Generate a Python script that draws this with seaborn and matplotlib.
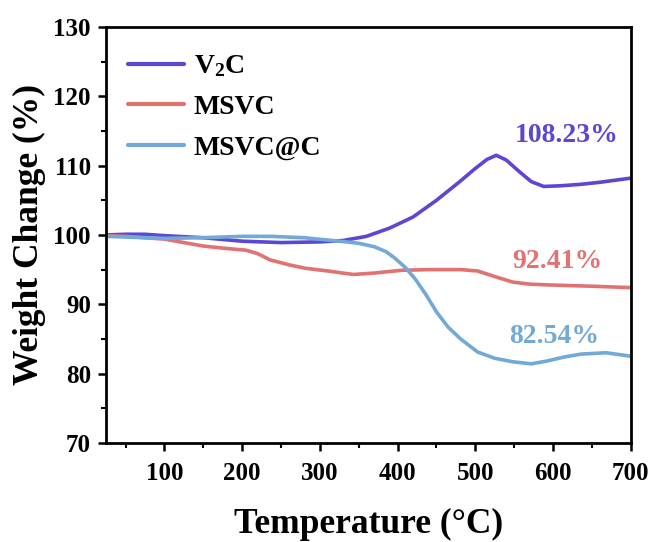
import numpy as np
import pandas as pd
import matplotlib
matplotlib.use("Agg")
import matplotlib.pyplot as plt
import seaborn as sns

# values
t_v2c = [25, 50, 75, 100, 150, 200, 250, 300, 330, 360, 390, 420, 450, 480,
         500, 515, 527, 540, 557, 572, 588, 610, 635, 660, 700]
w_v2c = [100.0, 100.1, 100.1, 99.9, 99.6, 99.1, 98.9, 99.0, 99.2, 99.8, 101.0,
         102.6, 105.0, 107.7, 109.6, 110.9, 111.5, 110.8, 109.1, 107.7, 107.0,
         107.1, 107.3, 107.6, 108.2]

t_msvc = [25, 50, 75, 100, 150, 175, 205, 220, 236, 260, 281, 310, 343, 370,
          405, 440, 481, 503, 525, 548, 570, 592, 620, 650, 700]
w_msvc = [99.9, 99.8, 99.6, 99.4, 98.4, 98.1, 97.8, 97.3, 96.4, 95.7, 95.2,
          94.8, 94.3, 94.5, 94.9, 95.0, 95.0, 94.8, 94.0, 93.2, 92.9, 92.8,
          92.7, 92.6, 92.4]

t_msvcc = [25, 50, 100, 148, 200, 236, 280, 325, 350, 370, 385, 396, 410, 423,
           437, 450, 465, 481, 503, 525, 548, 572, 592, 615, 636, 668, 700]
w_msvcc = [99.8, 99.7, 99.5, 99.6, 99.8, 99.8, 99.6, 99.1, 98.8, 98.3, 97.6,
           96.7, 95.3, 93.6, 91.3, 88.9, 86.7, 85.0, 83.1, 82.2, 81.7, 81.4,
           81.8, 82.4, 82.8, 83.0, 82.5]

samples = ["V$_2$C", "MSVC", "MSVC@C"]
colors = ["#5a47d4", "#e07272", "#72a9d9"]
final_labels = ["108.23%", "92.41%", "82.54%"]

df = pd.concat([
    pd.DataFrame({"T": t_v2c, "W": w_v2c, "sample": samples[0]}),
    pd.DataFrame({"T": t_msvc, "W": w_msvc, "sample": samples[1]}),
    pd.DataFrame({"T": t_msvcc, "W": w_msvcc, "sample": samples[2]}),
])

sns.set_style("ticks")
plt.rcParams["font.family"] = ["Liberation Serif", "DejaVu Serif"]
plt.rcParams["font.weight"] = "bold"
plt.rcParams["text.color"] = "black"
plt.rcParams["axes.labelcolor"] = "black"
plt.rcParams["xtick.color"] = "black"
plt.rcParams["ytick.color"] = "black"
plt.rcParams["mathtext.fontset"] = "custom"
plt.rcParams["mathtext.rm"] = "Liberation Serif:bold"
plt.rcParams["mathtext.it"] = "Liberation Serif:bold"
plt.rcParams["mathtext.bf"] = "Liberation Serif:bold"

fig = plt.figure(figsize=(6.55, 5.42), dpi=100)
ax = fig.add_axes([0.162, 0.183, 0.801, 0.767])

sns.lineplot(data=df, x="T", y="W", hue="sample", palette=colors,
             hue_order=samples, linewidth=2.6, ax=ax, sort=False)

ax.set_xlim(25, 700)
ax.set_ylim(70, 130)
ax.set_xticks([100, 200, 300, 400, 500, 600, 700])
ax.set_xticks(np.arange(50, 701, 50), minor=True)
ax.set_yticks(np.arange(70, 131, 10))
ax.set_yticks(np.arange(75, 130, 10), minor=True)
ax.tick_params(which="major", length=6, width=1.8, labelsize=18, direction="out")
ax.tick_params(which="minor", length=3.5, width=1.5, direction="out")
ax.tick_params(axis="x", which="major", pad=8)
ax.tick_params(axis="y", which="major", pad=5)
for lab in ax.get_xticklabels() + ax.get_yticklabels():
    lab.set_fontweight("bold")
for s in ax.spines.values():
    s.set_linewidth(2)
    s.set_color("black")

ax.set_xlabel("Temperature (°C)", fontsize=25.5, fontweight="bold", labelpad=16)
ax.set_ylabel("Weight Change (%)", fontsize=25.5, fontweight="bold", labelpad=5)

# end-point percentages
text_pos = [(618, 114.4), (605, 96.1), (601, 85.3)]
for (tx, ty), txt, c in zip(text_pos, final_labels, colors):
    ax.text(tx, ty, txt, color=c, fontsize=20, fontweight="bold",
            ha="center", va="center")

leg = ax.legend(loc="upper left", bbox_to_anchor=(0.0, 0.99), frameon=False,
                fontsize=20, handlelength=2.0, labelspacing=0.55,
                borderaxespad=0.4, handletextpad=0.35)
for line in leg.get_lines():
    line.set_linewidth(3)
for t in leg.get_texts():
    t.set_fontweight("bold")

fig.savefig("out.png", dpi=100)
